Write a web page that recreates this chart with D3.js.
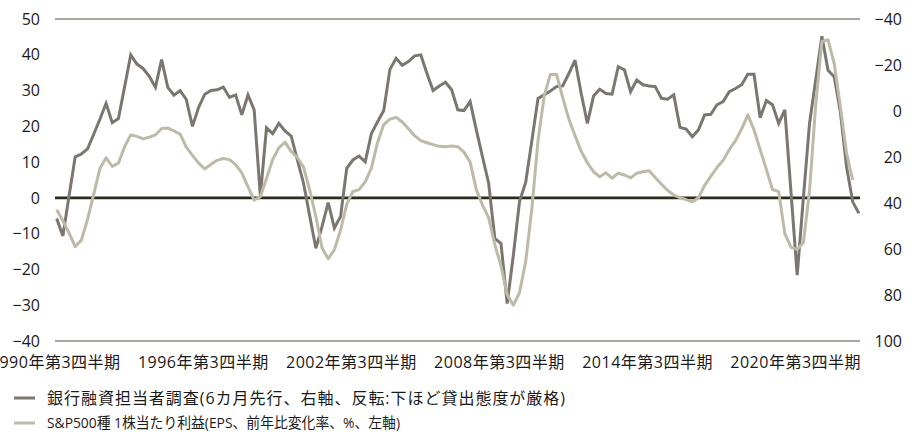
<!DOCTYPE html>
<html>
<head>
<meta charset="utf-8">
<script src="https://cdn.jsdelivr.net/npm/d3@7"></script>
<style>
  html, body { margin: 0; padding: 0; background: #ffffff; }
  svg { display: block; }
  text { font-family: "Open Sans", "Noto Sans CJK JP", sans-serif; fill: #1a1a1a; }
</style>
</head>
<body>
<svg id="chart" width="919" height="432"></svg>
<script>
// Quarterly observations, 1990 Q3 onward
const firstYear = 1990, firstQuarter = 3;

// Bank loan officer survey (6-month lead, right axis, inverted)
const loanSurvey = [
  46.7, 54.3, 37.0, 19.9, 18.7, 16.5, 10.1, 3.6, -3.3, 5.1,
  3.3, -10.4, -24.4, -20.4, -18.5, -15.1, -10.3, -22.4, -10.3, -6.9,
  -8.9, -5.0, 6.7, -1.6, -7.3, -8.9, -9.2, -10.4, -5.9, -7.0,
  1.7, -7.0, -0.5, 36.9, 7.3, 9.8, 5.4, 8.7, 10.9, 21.3,
  31.4, 45.6, 59.7, 50.2, 39.8, 50.9, 45.9, 24.9, 21.3, 19.6,
  22.1, 9.8, 4.7, -0.2, -18.1, -22.9, -19.9, -21.5, -24.0, -24.4,
  -16.3, -8.9, -10.9, -12.5, -9.2, -0.5, -0.2, -4.1, 8.2, 19.9,
  31.4, 55.4, 57.6, 83.7, 62.7, 39.4, 31.1, 12.9, -5.5, -7.0,
  -8.7, -10.6, -10.9, -16.3, -22.1, -7.6, 5.4, -6.5, -9.5, -7.6,
  -7.3, -19.3, -17.9, -8.4, -13.5, -11.4, -10.9, -10.6, -5.5, -5.1,
  -7.0, 7.1, 7.9, 11.2, 8.2, 1.7, 1.4, -2.7, -4.1, -8.4,
  -9.8, -11.4, -16.0, -16.0, 2.9, -4.5, -2.7, 5.4, -0.5, 35.5,
  71.4, 37.8, 5.4, -13.5, -32.5, -17.7, -14.9, 0.5, 24.3, 39.5,
  44.5
];

// S&P 500 earnings per share, year-over-year change in % (left axis)
const epsGrowth = [
  -3.3, -6.4, -9.8, -13.6, -11.8, -6.0, 1.0, 8.2, 11.2, 8.8,
  9.7, 14.3, 17.6, 17.2, 16.5, 17.0, 17.6, 19.4, 19.5, 18.7,
  17.8, 14.2, 11.9, 9.7, 8.1, 9.4, 10.5, 11.0, 10.7, 9.3,
  7.0, 3.1, -0.6, 0.3, 5.4, 10.7, 14.0, 15.6, 13.0, 11.3,
  8.6, 2.2, -5.2, -14.0, -17.0, -14.5, -9.0, -1.8, 1.8, 2.3,
  4.5, 8.3, 15.5, 20.5, 22.0, 22.5, 21.2, 19.3, 17.4, 16.0,
  15.4, 14.9, 14.4, 14.3, 14.5, 14.3, 12.8, 10.0, 2.3, -2.0,
  -5.5, -13.1, -19.0, -27.0, -30.0, -26.5, -17.8, -3.0, 16.0, 28.5,
  34.5, 34.5, 28.0, 22.0, 17.4, 13.0, 9.8, 7.3, 5.9, 7.0,
  5.5, 6.9, 6.4, 5.6, 6.9, 7.3, 7.6, 5.7, 3.8, 2.1,
  0.8, 0.1, -0.5, -1.1, 0.0, 3.5, 6.0, 8.5, 10.5, 13.5,
  16.0, 19.3, 23.2, 19.0, 13.5, 8.0, 2.3, 1.8, -10.0, -13.8,
  -14.4, -12.5, 2.0, 26.0, 43.7, 44.2, 37.5, 25.5, 12.5, 5.0
];

const leftTicks = [50, 40, 30, 20, 10, 0, -10, -20, -30, -40];
const rightTicks = [-40, -20, 0, 20, 40, 60, 80, 100];
const xTickQuarters = ["1990Q3", "1996Q3", "2002Q3", "2008Q3", "2014Q3", "2020Q3"];
const xTickLabels = ["1990年第3四半期", "1996年第3四半期", "2002年第3四半期",
                     "2008年第3四半期", "2014年第3四半期", "2020年第3四半期"];
const seriesNames = [
  "銀行融資担当者調査(6カ月先行、右軸、反転:下ほど貸出態度が厳格)",
  "S&P500種 1株当たり利益(EPS、前年比変化率、%、左軸)"
];
const seriesColors = ["#7b7770", "#bdbaa8"];

// Quarter keys for the category axis
const quarters = loanSurvey.map((_, i) => {
  const q = firstQuarter - 1 + i;
  return (firstYear + Math.floor(q / 4)) + "Q" + (q % 4 + 1);
});

const svg = d3.select("#chart");
const plot = { left: 55, right: 860, top: 19, bottom: 341 };

const x = d3.scalePoint().domain(quarters).range([56.7, 858.9]);
const yLeft = d3.scaleLinear().domain([-40, 50]).range([plot.bottom, plot.top]);
const yRight = d3.scaleLinear().domain([-40, 100]).range([plot.top, plot.bottom]);

// frame lines at the top and bottom of the left scale
svg.append("g").selectAll("line")
  .data([50, -40]).join("line")
  .attr("x1", plot.left).attr("x2", plot.right)
  .attr("y1", d => yLeft(d)).attr("y2", d => yLeft(d))
  .attr("stroke", "#8e8a7e").attr("stroke-width", 1.4);

// zero line
svg.append("line")
  .attr("x1", plot.left).attr("x2", plot.right)
  .attr("y1", yLeft(0)).attr("y2", yLeft(0))
  .attr("stroke", "#2e2a1e").attr("stroke-width", 2.6);

// left axis
const gl = svg.append("g")
  .attr("transform", `translate(${plot.left},0)`)
  .call(d3.axisLeft(yLeft).tickValues(leftTicks).tickSize(0).tickPadding(15));
gl.select(".domain").remove();
gl.selectAll("text").attr("font-size", 16).attr("font-family", null).style("fill", "#1a1a1a");

// right axis (inverted)
const gr = svg.append("g")
  .attr("transform", `translate(${plot.right},0)`)
  .call(d3.axisRight(yRight).tickValues(rightTicks).tickSize(0));
gr.select(".domain").remove();
gr.selectAll("text").attr("font-size", 16).attr("font-family", null)
  .attr("text-anchor", "end").attr("x", 42).style("fill", "#1a1a1a");

// bottom axis
const gb = svg.append("g")
  .attr("transform", `translate(0,${plot.bottom})`)
  .call(d3.axisBottom(x).tickValues(xTickQuarters)
    .tickFormat((d, i) => xTickLabels[i]).tickSize(0).tickPadding(16));
gb.select(".domain").remove();
gb.selectAll("text").attr("font-size", 16).attr("font-family", null)
  .attr("dx", -2).style("letter-spacing", "0.5px").style("fill", "#1a1a1a");

// series lines
const lineLoan = d3.line()
  .x((d, i) => x(quarters[i]))
  .y(d => yRight(d));
const lineEps = d3.line()
  .x((d, i) => x(quarters[i]))
  .y(d => yLeft(d));

svg.append("path").datum(loanSurvey)
  .attr("d", lineLoan).attr("fill", "none")
  .attr("stroke", seriesColors[0]).attr("stroke-width", 3)
  .attr("stroke-linejoin", "miter").attr("stroke-miterlimit", 3);

svg.append("path").datum(epsGrowth)
  .attr("d", lineEps).attr("fill", "none")
  .attr("stroke", seriesColors[1]).attr("stroke-width", 3)
  .attr("stroke-linejoin", "round");

// legend
const legendWidths = [518, 353];
const legendSizes = [16, 15];
const legend = svg.append("g").selectAll("g")
  .data(seriesNames).join("g")
  .attr("transform", (d, i) => `translate(14,${398 + i * 25})`);
legend.append("line")
  .attr("x1", 0).attr("x2", 21).attr("y1", 0).attr("y2", 0)
  .attr("stroke", (d, i) => seriesColors[i]).attr("stroke-width", 3);
legend.append("text")
  .attr("x", 33).attr("y", 0).attr("dy", "0.36em")
  .attr("font-size", (d, i) => legendSizes[i])
  .attr("textLength", (d, i) => legendWidths[i])
  .attr("lengthAdjust", (d, i) => i === 0 ? "spacing" : "spacingAndGlyphs")
  .text(d => d);
</script>
</body>
</html>
